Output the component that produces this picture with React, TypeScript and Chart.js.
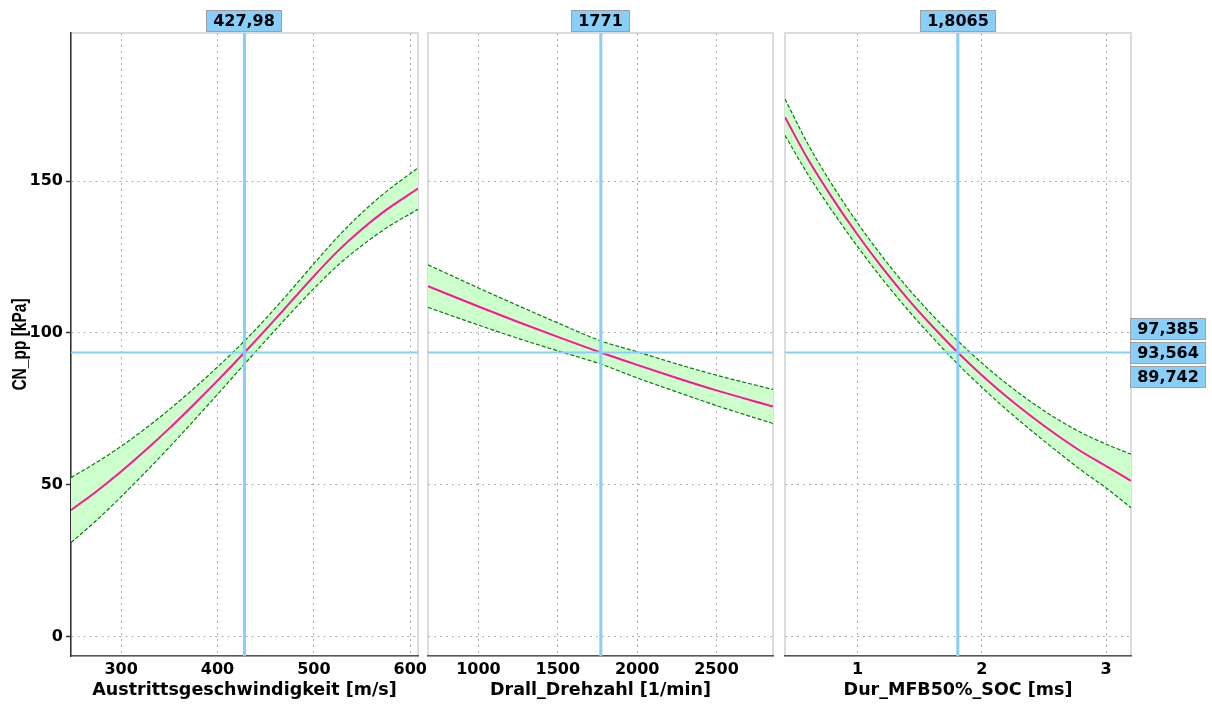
import React, { useEffect, useRef } from 'react';
import { Chart, registerables } from 'chart.js';

Chart.register(...registerables);

// ---------- data ----------
const Y_MIN = -6.3;
const Y_MAX = 198.7;
const Y_TICKS = [0, 50, 100, 150];
const Y_TICK_LABELS = ['0', '50', '100', '150'];
const Y_TITLE = 'CN_pp [kPa]';

const X1 = [248, 275, 300, 325, 350, 375, 400, 427.98, 450, 475, 500, 525, 550, 575, 608];
const MEAN1 = [41.7, 48.0, 54.4, 61.3, 68.6, 76.3, 84.3, 93.564, 101.1, 109.9, 118.7, 127.0, 134.2, 140.5, 147.5];
const UPPER1 = [52.4, 57.5, 62.7, 68.5, 74.8, 81.6, 88.8, 97.385, 104.7, 113.6, 122.8, 131.7, 139.6, 146.5, 154.3];
const LOWER1 = [31.0, 38.5, 46.1, 54.1, 62.4, 71.0, 79.8, 89.742, 97.5, 106.2, 114.6, 122.3, 128.8, 134.5, 140.7];
const X1_RANGE = [248, 608];
const X1_TICKS = [300, 400, 500, 600];
const X1_TICK_LABELS = ['300', '400', '500', '600'];
const X1_TITLE = 'Austrittsgeschwindigkeit [m/s]';

const X2 = [682, 1000, 1250, 1500, 1771, 2000, 2250, 2500, 2856];
const MEAN2 = [115.4, 108.7, 103.6, 98.7, 93.564, 89.5, 85.2, 81.1, 75.8];
const UPPER2 = [122.4, 114.8, 109.0, 103.3, 97.385, 93.8, 89.8, 86.1, 81.4];
const LOWER2 = [108.4, 102.6, 98.2, 94.1, 89.742, 85.2, 80.6, 76.1, 70.2];
const X2_RANGE = [682, 2856];
const X2_TICKS = [1000, 1500, 2000, 2500];
const X2_TICK_LABELS = ['1000', '1500', '2000', '2500'];
const X2_TITLE = 'Drall_Drehzahl [1/min]';

const X3 = [0.416, 0.6, 0.8, 1.0, 1.2, 1.4, 1.6, 1.8065, 2.0, 2.2, 2.4, 2.6, 2.8, 3.0, 3.2];
const MEAN3 = [171.0, 157.2, 144.2, 132.3, 121.4, 111.4, 102.3, 93.564, 86.1, 79.0, 72.5, 66.5, 61.0, 56.2, 51.3];
const UPPER3 = [177.0, 162.2, 148.5, 136.2, 125.1, 115.0, 105.95, 97.385, 90.1, 83.3, 77.2, 71.8, 67.2, 63.4, 60.1];
const LOWER3 = [165.0, 152.2, 139.9, 128.4, 117.7, 107.8, 98.65, 89.742, 82.1, 74.7, 67.8, 61.2, 54.8, 49.0, 42.5];
const X3_RANGE = [0.416, 3.2];
const X3_TICKS = [1, 2, 3];
const X3_TICK_LABELS = ['1', '2', '3'];
const X3_TITLE = 'Dur_MFB50%_SOC [ms]';

const CROSS_X = [427.98, 1771, 1.8065];
const CROSS_X_LABELS = ['427,98', '1771', '1,8065'];
const CROSS_Y = 93.564;
const Y_BOX_LABELS = ['97,385', '93,564', '89,742'];

// ---------- styles ----------
const BLUE = '#87cefa';
const FONT = "'DejaVu Sans', sans-serif";
const TICK_FONT = { family: FONT, size: 16, weight: 'bold' as const };
const TITLE_FONT = { family: FONT, size: 17.5, weight: 'bold' as const };
const GRID_COLOR = '#b0b0b0';
const BAND_LINE = '#0d7a0d';

type PanelDef = {
  x: number[]; mean: number[]; upper: number[]; lower: number[];
  range: number[]; ticks: number[]; tickLabels: string[]; title: string;
  crossX: number; crossLabel: string;
  left: number; width: number; padL: number; padR: number; first: boolean; last: boolean;
};

const PANELS: PanelDef[] = [
  { x: X1, mean: MEAN1, upper: UPPER1, lower: LOWER1, range: X1_RANGE, ticks: X1_TICKS, tickLabels: X1_TICK_LABELS, title: X1_TITLE, crossX: CROSS_X[0], crossLabel: CROSS_X_LABELS[0], left: 0, width: 440, padL: 0, padR: 22, first: true, last: false },
  { x: X2, mean: MEAN2, upper: UPPER2, lower: LOWER2, range: X2_RANGE, ticks: X2_TICKS, tickLabels: X2_TICK_LABELS, title: X2_TITLE, crossX: CROSS_X[1], crossLabel: CROSS_X_LABELS[1], left: 420, width: 375, padL: 8, padR: 22, first: false, last: false },
  { x: X3, mean: MEAN3, upper: UPPER3, lower: LOWER3, range: X3_RANGE, ticks: X3_TICKS, tickLabels: X3_TICK_LABELS, title: X3_TITLE, crossX: CROSS_X[2], crossLabel: CROSS_X_LABELS[2], left: 780, width: 432, padL: 5, padR: 81, first: false, last: true },
];

function drawBox(ctx: CanvasRenderingContext2D, cx: number | null, leftX: number | null, cy: number, text: string) {
  ctx.save();
  ctx.font = `bold 16px ${FONT}`;
  const tw = ctx.measureText(text).width;
  const w = Math.round(tw + 14);
  const h = 22;
  const x = leftX !== null ? leftX : Math.round((cx as number) - w / 2);
  const y = Math.round(cy - h / 2);
  ctx.fillStyle = BLUE;
  ctx.fillRect(x, y, w, h);
  ctx.strokeStyle = '#a0a0a0';
  ctx.lineWidth = 1;
  ctx.strokeRect(x + 0.5, y + 0.5, w - 1, h - 1);
  ctx.fillStyle = '#000';
  ctx.textAlign = 'center';
  ctx.textBaseline = 'middle';
  ctx.fillText(text, x + w / 2, cy + 1);
  ctx.restore();
}

const crossPlugin = {
  id: 'cross',
  beforeDraw(chart: any) {
    const { ctx, chartArea: a } = chart;
    ctx.save();
    ctx.strokeStyle = '#dcdcdc';
    ctx.lineWidth = 2;
    ctx.strokeRect(a.left, a.top, a.right - a.left, a.bottom - a.top);
    ctx.restore();
  },
  afterDatasetsDraw(chart: any, _args: any, opts: any) {
    const { ctx, chartArea: a, scales } = chart;
    const px = scales.x.getPixelForValue(opts.xValue);
    const py = scales.y.getPixelForValue(opts.yValue);
    ctx.save();
    ctx.strokeStyle = BLUE;
    ctx.lineWidth = 2;
    ctx.beginPath();
    ctx.moveTo(a.left, py);
    ctx.lineTo(a.right, py);
    ctx.stroke();
    ctx.lineWidth = 3;
    ctx.beginPath();
    ctx.moveTo(px, a.top);
    ctx.lineTo(px, a.bottom);
    ctx.stroke();
    ctx.restore();
  },
  afterDraw(chart: any, _args: any, opts: any) {
    const { ctx, chartArea: a, scales } = chart;
    const px = scales.x.getPixelForValue(opts.xValue);
    drawBox(ctx, px, null, a.top - 12, opts.xLabel);
    if (opts.yLabels) {
      const py = scales.y.getPixelForValue(opts.yValue);
      drawBox(ctx, null, Math.round(a.right) - 1, py - 24, opts.yLabels[0]);
      drawBox(ctx, null, Math.round(a.right) - 1, py, opts.yLabels[1]);
      drawBox(ctx, null, Math.round(a.right) - 1, py + 24, opts.yLabels[2]);
    }
    if (opts.yTitle) {
      // y-axis title, rotated, slightly widened like the reference rendering
      ctx.save();
      ctx.translate(20, (a.top + a.bottom) / 2);
      ctx.rotate(-Math.PI / 2);
      ctx.scale(1, 1.35);
      ctx.font = "bold 15.5px 'Liberation Sans', Arial, sans-serif";
      ctx.fillStyle = '#000';
      ctx.textAlign = 'center';
      ctx.textBaseline = 'middle';
      ctx.fillText(opts.yTitle, 0, 0);
      ctx.restore();
    }
  },
};

function pts(xs: number[], ys: number[]) {
  return xs.map((x, i) => ({ x, y: ys[i] }));
}

function Panel({ p }: { p: PanelDef }) {
  const ref = useRef<HTMLCanvasElement>(null);
  useEffect(() => {
    if (!ref.current) return;
    const lineCommon = { pointRadius: 0, cubicInterpolationMode: 'monotone' as const };
    const chart = new Chart(ref.current, {
      type: 'line',
      data: {
        datasets: [
          { data: pts(p.x, p.mean), borderColor: '#ff1493', borderWidth: 2, fill: false, ...lineCommon },
          { data: pts(p.x, p.upper), borderColor: BAND_LINE, borderWidth: 1.2, borderDash: [4, 2], fill: '+1', backgroundColor: '#ccffcc', ...lineCommon },
          { data: pts(p.x, p.lower), borderColor: BAND_LINE, borderWidth: 1.2, borderDash: [4, 2], fill: false, ...lineCommon },
        ],
      },
      options: {
        responsive: false,
        animation: false,
        events: [],
        layout: { padding: { left: p.padL, right: p.padR, top: 33, bottom: 0 }, autoPadding: false },
        plugins: {
          legend: { display: false },
          tooltip: { enabled: false },
          filler: { drawTime: 'beforeDatasetsDraw' },
          cross: {
            xValue: p.crossX, xLabel: p.crossLabel, yValue: CROSS_Y,
            yLabels: p.last ? Y_BOX_LABELS : null,
            yTitle: p.first ? Y_TITLE : null,
          },
        } as any,
        scales: {
          x: {
            type: 'linear',
            position: 'bottom',
            min: p.range[0],
            max: p.range[1],
            afterBuildTicks: (s: any) => { s.ticks = p.ticks.map((v) => ({ value: v })); },
            afterFit: (s: any) => { s.height = 48; },
            ticks: {
              font: TICK_FONT, color: '#000', padding: 4, autoSkip: false, maxRotation: 0, minRotation: 0,
              callback: (v: any) => { const i = p.ticks.indexOf(Number(v)); return i >= 0 ? p.tickLabels[i] : ''; },
            },
            grid: { color: GRID_COLOR, lineWidth: 1, drawTicks: false },
            border: { display: true, color: '#555', width: 1.5, dash: [2, 4] },
            title: { display: true, text: p.title, font: TITLE_FONT, color: '#000', padding: { top: 0, bottom: 3 } },
          },
          y: {
            type: 'linear',
            min: Y_MIN,
            max: Y_MAX,
            afterBuildTicks: (s: any) => { s.ticks = Y_TICKS.map((v) => ({ value: v })); },
            afterFit: (s: any) => { s.width = p.first ? 71 : 0; },
            ticks: {
              display: p.first, font: TICK_FONT, color: '#000', padding: 3,
              callback: (v: any) => { const i = Y_TICKS.indexOf(Number(v)); return i >= 0 ? Y_TICK_LABELS[i] : ''; },
            },
            grid: { color: GRID_COLOR, lineWidth: 1, drawTicks: p.first, tickLength: 5, tickColor: '#333', tickWidth: 1.5 },
            border: { display: p.first, color: '#333', width: 1.5, dash: [2, 4] },
            title: { display: false },
          },
        },
      } as any,
      plugins: [crossPlugin as any],
    });
    return () => chart.destroy();
  }, [p]);
  return (
    <canvas
      ref={ref}
      width={p.width}
      height={704}
      style={{ position: 'absolute', left: p.left, top: 0, width: p.width, height: 704 }}
    />
  );
}

export default function App() {
  return (
    <div style={{ position: 'absolute', left: 0, top: 0, width: 1212, height: 704, background: '#fff', overflow: 'hidden' }}>
      {PANELS.map((p, i) => (
        <Panel key={i} p={p} />
      ))}
    </div>
  );
}
